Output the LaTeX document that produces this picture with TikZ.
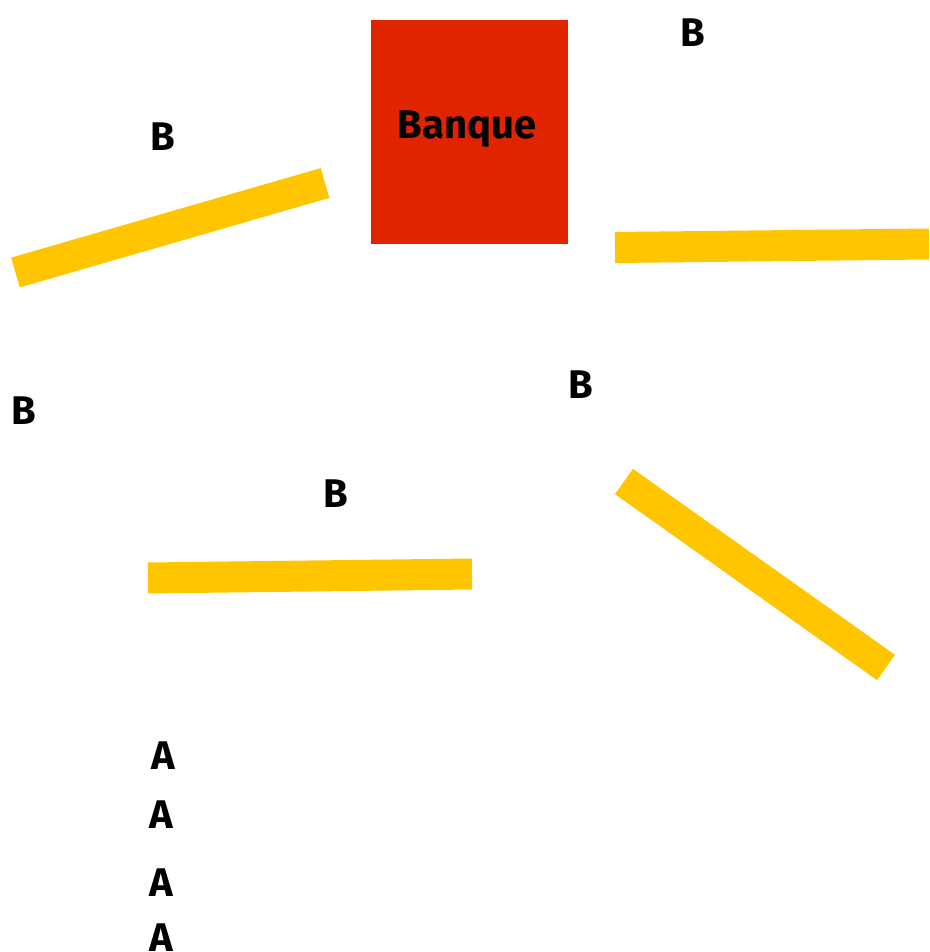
\documentclass[tikz,border=0pt]{standalone}
\usepackage{fontspec}
\setmainfont{Fira Sans}
\definecolor{bankred}{RGB}{224,36,0}
\definecolor{baryellow}{RGB}{255,198,0}
\begin{document}
\begin{tikzpicture}[x=1pt,y=-1pt,
  bar/.style={draw=baryellow,line width=31pt,line cap=butt},
  lbl/.style={font=\fontsize{40}{44}\selectfont\bfseries,inner sep=0pt,text=black}]
\useasboundingbox (0,0) rectangle (929,952);
\fill[white] (0,0) rectangle (929,952);
% bank
\node[fill=bankred,minimum width=197pt,minimum height=224pt,inner sep=0pt,anchor=north west] (bank) at (371,20) {};
\node[lbl,font=\fontsize{40}{44}\selectfont\bfseries] (banque) at (467,129) {Banque};
% bars
\draw[bar] (15.5,272.5) -- (325,183);
\draw[bar] (615,247.5) -- (929,244);
\draw[bar] (148,578) -- (472,574);
\draw[bar] (624,481.5) -- (886,667.5);
% labels
\node[lbl] (b1) at (693,33) {B};
\node[lbl] (b2) at (163,137) {B};
\node[lbl] (b3) at (24,411) {B};
\node[lbl] (b4) at (581,385) {B};
\node[lbl] (b5) at (336,494) {B};
\node[lbl] (a1) at (163,756) {A};
\node[lbl] (a2) at (161,815) {A};
\node[lbl] (a3) at (161,883) {A};
\node[lbl] (a4) at (161,938) {A};
\end{tikzpicture}
\end{document}
